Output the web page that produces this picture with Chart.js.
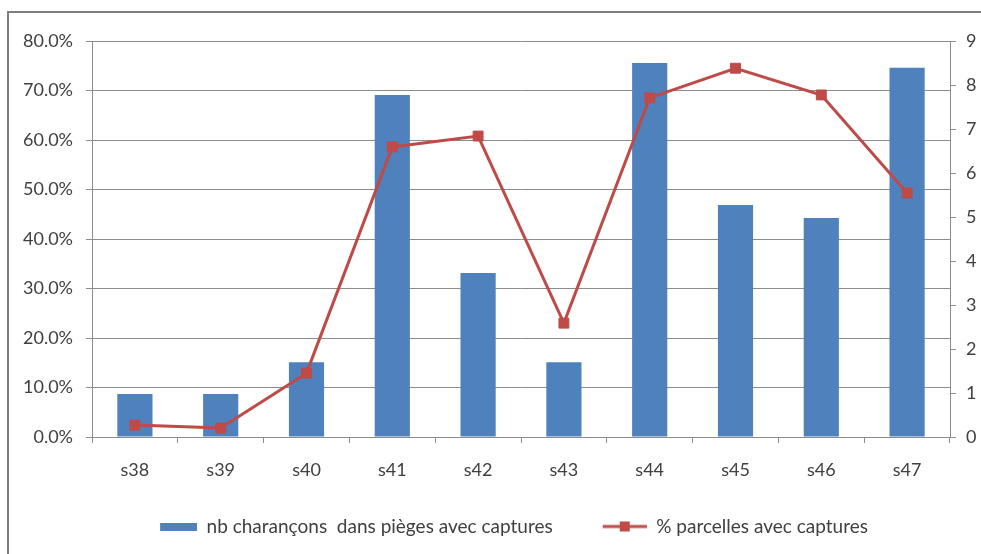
<!DOCTYPE html>
<html>
<head>
<meta charset="utf-8">
<script src="https://cdn.jsdelivr.net/npm/chart.js@4.4.1/dist/chart.umd.min.js"></script>
<style>
  html, body { margin: 0; padding: 0; background: #fff; }
  #wrap { width: 981px; height: 554px; }
</style>
</head>
<body>
<div id="wrap"><canvas id="myChart" width="981" height="554"></canvas></div>
<script>
const weeks = ["s38", "s39", "s40", "s41", "s42", "s43", "s44", "s45", "s46", "s47"];
const nbCharancons = [0.98, 0.98, 1.7, 7.77, 3.73, 1.7, 8.5, 5.27, 4.98, 8.39];
const pctParcelles = [2.4, 1.8, 12.9, 58.6, 60.8, 23.0, 68.5, 74.5, 69.1, 49.3];
const leftTicks = [0, 10, 20, 30, 40, 50, 60, 70, 80];
const rightTicks = [0, 1, 2, 3, 4, 5, 6, 7, 8, 9];

const blue = "#4F81BD";
const red = "#BE4B48";
const axisGrey = "#8c8c8c";
const textGrey = "#404040";

// legend symbols, drawn at the right end of a wider transparent strip
// so the blank left part spaces the two entries apart
const symW = 84;
function barSymbol() {
  const c = document.createElement("canvas");
  c.width = symW; c.height = 8;
  const g = c.getContext("2d");
  g.fillStyle = blue;
  g.fillRect(symW - 37, 0, 37, 8);
  return c;
}
function lineSymbol() {
  const c = document.createElement("canvas");
  c.width = symW; c.height = 12;
  const g = c.getContext("2d");
  g.strokeStyle = red;
  g.lineWidth = 3;
  g.beginPath(); g.moveTo(symW - 44, 6); g.lineTo(symW, 6); g.stroke();
  g.fillStyle = red;
  g.fillRect(symW - 27, 1, 10, 10);
  return c;
}

const frame = {
  id: "frame",
  beforeDraw(chart) {
    const ctx = chart.ctx;
    ctx.save();
    ctx.fillStyle = "#fff";
    ctx.fillRect(0, 0, chart.width, chart.height);
    ctx.strokeStyle = "#7f7f7f";
    ctx.lineWidth = 2;
    ctx.strokeRect(8, 12, 1000, 600);
    ctx.restore();
  }
};

new Chart("myChart", {
  type: "bar",
  data: {
    labels: weeks,
    datasets: [
      {
        label: "nb charançons  dans pièges avec captures",
        data: nbCharancons,
        backgroundColor: blue,
        yAxisID: "y1",
        barPercentage: 0.41,
        categoryPercentage: 1,
        order: 2,
      },
      {
        type: "line",
        label: "% parcelles avec captures",
        data: pctParcelles,
        borderColor: red,
        borderWidth: 3,
        backgroundColor: red,
        pointStyle: "rect",
        pointRadius: 7,
        pointBackgroundColor: red,
        pointBorderColor: red,
        pointBorderWidth: 1,
        tension: 0,
        yAxisID: "y",
        order: 1,
      },
    ],
  },
  options: {
    responsive: false,
    animation: false,
    layout: { padding: { top: 41, left: 0, right: 0, bottom: 8 } },
    plugins: {
      tooltip: { enabled: false },
      legend: {
        display: true,
        position: "bottom",
        labels: {
          usePointStyle: true,
          pointStyleWidth: symW,
          padding: 10,
          color: textGrey,
          font: { family: "Lato", size: 19 },
          generateLabels(chart) {
            const ds = chart.data.datasets;
            return [
              { text: ds[0].label, pointStyle: barSymbol(), datasetIndex: 0, fontColor: textGrey, lineWidth: 0, strokeStyle: "transparent", fillStyle: blue },
              { text: ds[1].label, pointStyle: lineSymbol(), datasetIndex: 1, fontColor: textGrey, lineWidth: 0, strokeStyle: "transparent", fillStyle: red },
            ];
          },
        },
      },
    },
    scales: {
      x: {
        offset: true,
        grid: {
          offset: true,
          drawOnChartArea: false,
          color: axisGrey,
          tickLength: 6,
        },
        border: { color: axisGrey, width: 1 },
        ticks: { color: textGrey, font: { family: "Lato", size: 18 }, padding: 16 },
        afterFit(scale) { scale.height = 70; },
      },
      y: {
        position: "left",
        min: 0,
        max: 80,
        afterBuildTicks(scale) { scale.ticks = leftTicks.map(v => ({ value: v })); },
        ticks: {
          color: textGrey,
          font: { family: "Lato", size: 18 },
          padding: 13,
          callback: v => v.toFixed(1) + "%",
        },
        grid: { color: axisGrey, tickLength: 6 },
        border: { color: axisGrey, width: 1 },
        afterFit(scale) { scale.width = 92; },
      },
      y1: {
        position: "right",
        min: 0,
        max: 9,
        afterBuildTicks(scale) { scale.ticks = rightTicks.map(v => ({ value: v })); },
        ticks: {
          color: textGrey,
          font: { family: "Lato", size: 18 },
          padding: 10,
          callback: v => String(v),
        },
        grid: { drawOnChartArea: false, color: axisGrey, tickLength: 6 },
        border: { color: axisGrey, width: 1 },
        afterFit(scale) { scale.width = 31; },
      },
    },
  },
  plugins: [frame],
});
</script>
</body>
</html>
